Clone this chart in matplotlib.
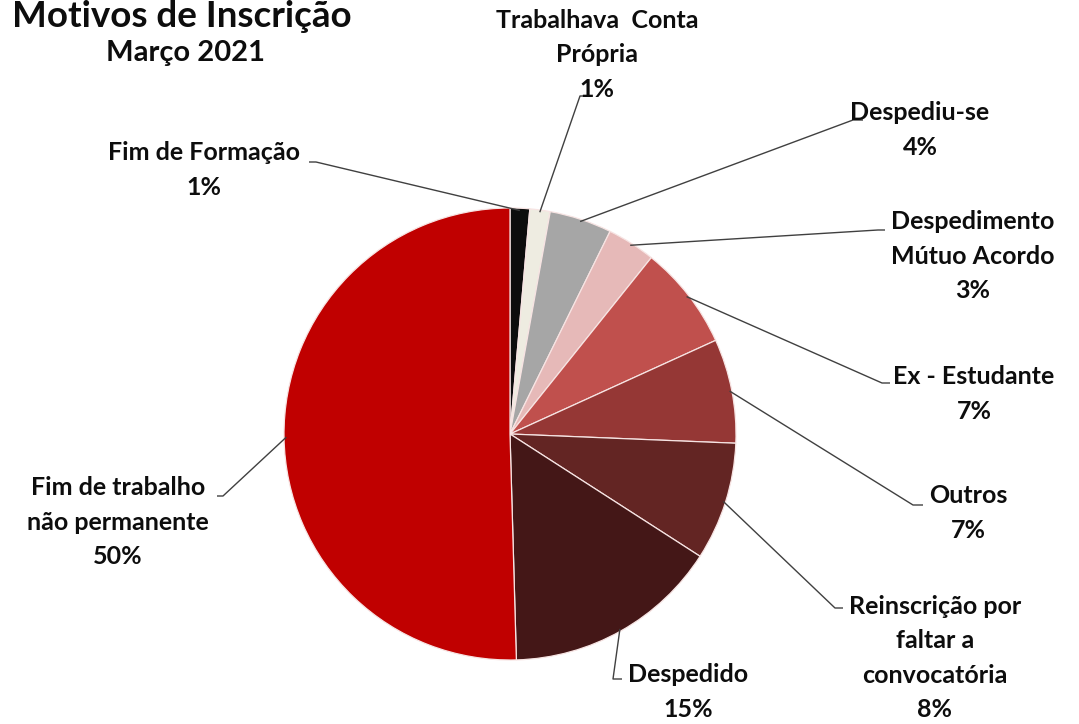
import matplotlib
matplotlib.use("Agg")
import matplotlib.pyplot as plt
import numpy as np

# Registration reasons, March 2021 (share of registrations, %)
categories = [
    "Fim de Formação",
    "Trabalhava  Conta\nPrópria",
    "Despediu-se",
    "Despedimento\nMútuo Acordo",
    "Ex - Estudante",
    "Outros",
    "Reinscrição por\nfaltar a\nconvocatória",
    "Despedido",
    "Fim de trabalho\nnão permanente",
]
shares = [1.4, 1.45, 4.45, 3.45, 7.45, 7.45, 8.45, 15.45, 50.45]
colors = ["#0D0D0D", "#EEECE1", "#A6A6A6", "#E6B9B8", "#C0504D",
          "#953735", "#632523", "#441717", "#C00000"]

W, H = 1079, 724
fig = plt.figure(figsize=(W / 100, H / 100), dpi=100)
ax = fig.add_axes([0, 0, 1, 1])

cx, cy, R = 510, H - 434, 226
wedges, _ = ax.pie(shares, colors=colors, startangle=90, counterclock=False,
                   radius=R, center=(cx, cy),
                   wedgeprops=dict(edgecolor="#F7E4E3", linewidth=0.9))
ax.set_xlim(0, W)
ax.set_ylim(0, H)
ax.set_aspect("equal")
ax.axis("off")

FONT = "Lato"

def y(px):
    return H - px

# label layout: text centre (x, y), leader elbow, leader end (pixel coords, y down)
layout = [
    ((204, 170), (316, 162), (309, 162)),
    ((597, 55), (580, 96), (592, 96)),
    ((920, 130), (853, 120), (863, 120)),
    ((973, 256), (878, 230), (885, 230)),
    ((974, 394), (882, 383), (890, 383)),
    ((968, 513), (913, 505), (923, 505)),
    ((935, 658), (835, 608), (843, 608)),
    ((688, 692), (613, 679), (622, 679)),
    ((118, 522), (223, 496), (217, 496)),
]

total = sum(shares)
for w, name, val, (tc, elbow, end) in zip(wedges, categories, shares, layout):
    mid = np.deg2rad((w.theta1 + w.theta2) / 2)
    ax0 = cx + 0.99 * R * np.cos(mid)
    ay0 = cy + 0.99 * R * np.sin(mid)
    ax.plot([ax0, elbow[0], end[0]], [ay0, y(elbow[1]), y(end[1])],
            color="#404040", lw=1.0, solid_capstyle="butt")
    pct = f"{val / total * 100:.0f}%"
    ax.text(tc[0], y(tc[1]), f"{name}\n{pct}", ha="center", va="center",
            multialignment="center", fontsize=18, fontweight="bold",
            family=FONT, linespacing=1.6, color="#0D0D0D")

fig.text(12 / W, 1 - 27 / H, "Motivos de Inscrição", ha="left", va="baseline",
         fontsize=26.5, fontweight="bold", family=FONT, color="#0D0D0D")
fig.text(185 / W, 1 - 61 / H, "Março 2021", ha="center", va="baseline",
         fontsize=21, fontweight="bold", family=FONT, color="#0D0D0D")

fig.savefig("out.png", dpi=100)
